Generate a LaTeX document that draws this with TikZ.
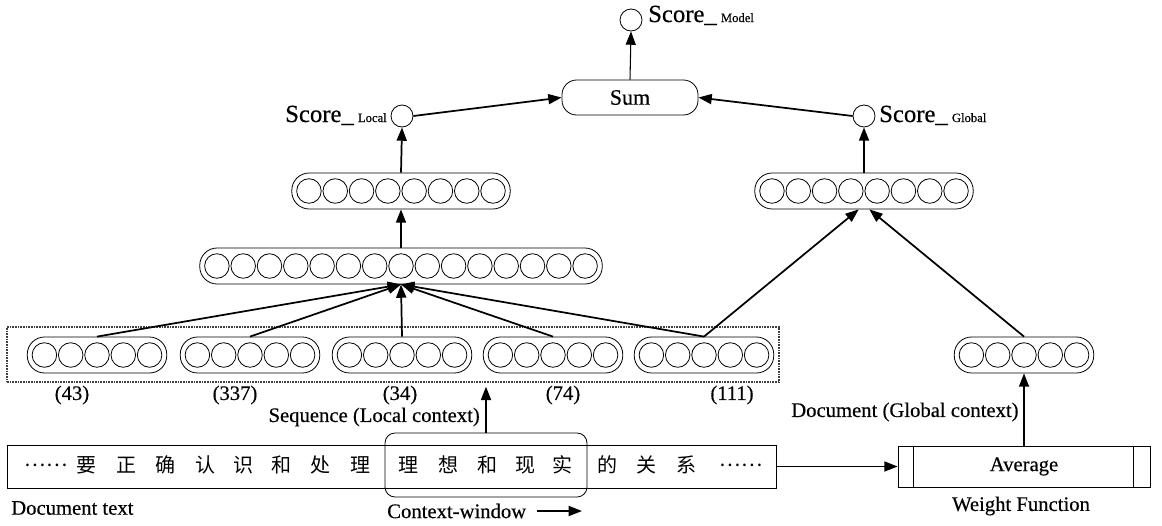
\documentclass[tikz,border=0pt]{standalone}
\usepackage{fontspec}
\setmainfont{Liberation Serif}[FakeBold=0.4]
\newfontfamily\cjk{Noto Sans CJK SC}
\usetikzlibrary{arrows.meta,calc}
\newcommand{\nnlayer}[4]{%
  \pgfmathsetmacro{\lw}{(#4*26.3+8)*0.75}%
  \node[layerbox,minimum width=\lw pt] (#1) at (#2,#3) {};%
  \foreach \i in {1,...,#4}{\node[unit] (#1-\i) at ({#2+(\i-(#4+1)/2)*26.3},#3) {};}%
}
\begin{document}
\begin{tikzpicture}[x=0.75pt,y=-0.75pt,
  unit/.style={circle,draw,line width=0.6pt,minimum size=18.4pt,inner sep=0pt},
  layerbox/.style={rectangle,draw,line width=0.6pt,rounded corners=13pt,minimum height=27pt,inner sep=0pt},
  score/.style={circle,draw,line width=0.6pt,minimum size=16.5pt,inner sep=0pt},
  arr/.style={-{Triangle[length=10pt,width=7.5pt]},line width=1.3pt},
  lbl/.style={font=\fontsize{15.5}{18}\selectfont,inner sep=0pt},
  ch/.style={font=\cjk\fontsize{15}{17}\selectfont,inner sep=0pt},
  box/.style={draw,line width=0.6pt,inner sep=0pt}]
\useasboundingbox (0,0) rectangle (1162,525);
% dashed window around the sequence groups
\node[draw=black!75,line width=1pt,dash pattern=on 1.2pt off 0.8pt,minimum width=579pt,minimum height=41.25pt,inner sep=0pt] (win) at (393,354.5) {};
% layers
\nnlayer{ga}{97}{355}{5}
\nnlayer{gb}{250}{355}{5}
\nnlayer{gc}{402}{355}{5}
\nnlayer{gd}{553}{355}{5}
\nnlayer{ge}{704}{355}{5}
\nnlayer{gr}{1024}{355}{5}
\nnlayer{hid}{401}{266}{15}
\nnlayer{hl}{401}{191}{8}
\nnlayer{hr}{864}{191}{8}
% scores
\node[score] (sl) at (402,116) {};
\node[score] (sg) at (864,116) {};
\node[score] (sm) at (631,20) {};
\node[box,rounded corners=11pt,minimum width=102pt,minimum height=26.25pt,font=\fontsize{16.5}{18}\selectfont] (sum) at (630,97.5) {Sum};
\node[anchor=base west,inner sep=0pt] (tm) at (648,22) {\fontsize{18.5}{20}\selectfont Score\_\,{\fontsize{9.5}{10}\selectfont Model}};
\node[anchor=base east,inner sep=0pt] (tl) at (387,122) {\fontsize{18.5}{20}\selectfont Score\_\,{\fontsize{9.5}{10}\selectfont Local}};
\node[anchor=base west,inner sep=0pt] (tg) at (879,122) {\fontsize{18.5}{20}\selectfont Score\_\,{\fontsize{9.5}{10}\selectfont Global}};
% group labels
\node[lbl] (la) at (72,395) {(43)};
\node[lbl] (lb) at (235,395) {(337)};
\node[lbl] (lc) at (400,395) {(34)};
\node[lbl] (ld) at (563,395) {(74)};
\node[lbl] (le) at (732,395) {(111)};
% text box
\node[box,minimum width=576.75pt,minimum height=32.25pt] (tb) at (391.5,466.5) {};
\node[box,rounded corners=7.5pt,minimum width=151.5pt,minimum height=48pt] (cw) at (486,465) {};
\node[ch] (d1) at (46,465) {……};
\node[ch] (c1) at (86,465) {要};
\node[ch] (c2) at (126,465) {正};
\node[ch] (c3) at (165,465) {确};
\node[ch] (c4) at (205,465) {认};
\node[ch] (c5) at (243,465) {识};
\node[ch] (c6) at (281,465) {和};
\node[ch] (c7) at (320,465) {处};
\node[ch] (c8) at (360,465) {理};
\node[ch] (c9) at (408,465) {理};
\node[ch] (c10) at (448,465) {想};
\node[ch] (c11) at (487,465) {和};
\node[ch] (c12) at (525,465) {现};
\node[ch] (c13) at (562,465) {实};
\node[ch] (c14) at (607,465) {的};
\node[ch] (c15) at (646,465) {关};
\node[ch] (c16) at (686,465) {系};
\node[ch] (d2) at (741,465) {……};
% average box
\node[box,minimum width=189pt,minimum height=30.75pt,lbl] (avg) at (1024,466.5) {Average};
\draw[line width=0.6pt] ([xshift=12pt]avg.north west) -- ([xshift=12pt]avg.south west);
\draw[line width=0.6pt] ([xshift=-12.75pt]avg.north east) -- ([xshift=-12.75pt]avg.south east);
% labels
\node[lbl,anchor=west] (ldt) at (11,508) {Document text};
\node[lbl,anchor=west] (lcw) at (387,511) {Context-window};
\node[lbl,anchor=east] (lseq) at (480,417) {Sequence (Local context)};
\node[lbl,anchor=west] (ldoc) at (791,412) {Document (Global context)};
\node[lbl] (lwf) at (1021,506) {Weight Function};
\coordinate (ca1) at (537,511);
\coordinate (ca2) at (582,511);
% connectors
\draw[arr] (ga.north) -- (hid.south);
\draw[arr] (gb.north) -- (hid.south);
\draw[arr] (gc.north) -- (hid.south);
\draw[arr] (gd.north) -- (hid.south);
\draw[arr] (ge.north) -- (hid.south);
\draw[arr] (ge.north) -- ([xshift=-4pt]hr.south);
\draw[arr] (gr.north) -- ([xshift=4pt]hr.south);
\draw[arr] (hid.north) -- (hl.south);
\draw[arr] (hl.north) -- (sl.south);
\draw[arr] (hr.north) -- (sg.south);
\draw[arr] (sl.east) -- (sum.west);
\draw[arr] (sg.west) -- (sum.east);
\draw[arr,line width=0.8pt] (sum.north) -- (sm.south);
\draw[arr] (tb.east) -- (avg.west);
\draw[arr] (avg.north) -- (gr.south);
\draw[arr,shorten >=3pt] (cw.north) -- (cw.north |- win.south);
\draw[arr] (ca1) -- (ca2);
\end{tikzpicture}
\end{document}
